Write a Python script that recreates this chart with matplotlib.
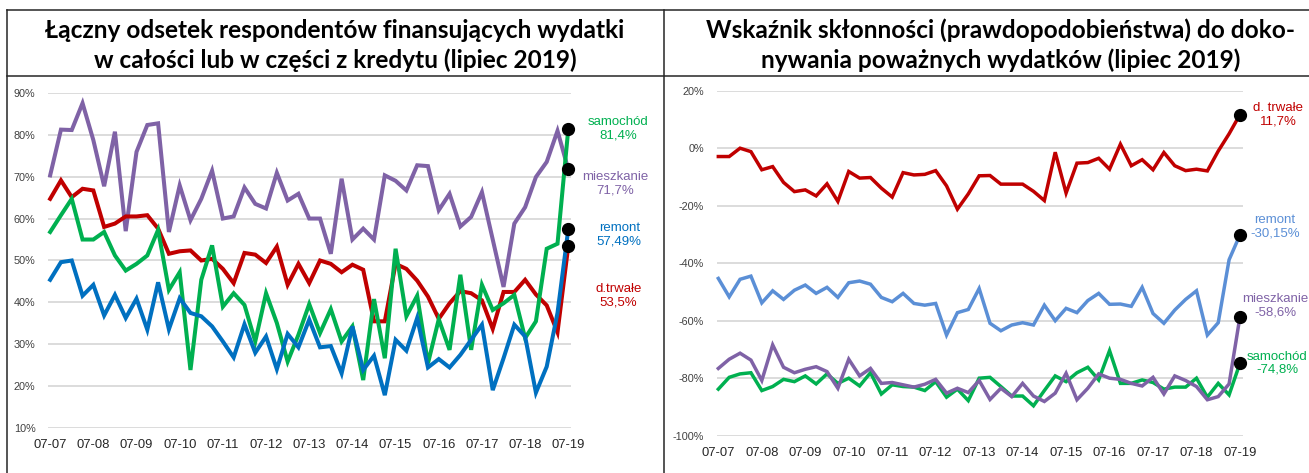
import matplotlib.pyplot as plt
from matplotlib.lines import Line2D

# quarterly readings, 07-2007 .. 07-2019
quarters = list(range(49))
tick_labels = ["07-%02d" % y for y in range(7, 20)]

# left panel: share financing purchases with credit (%)
samochod_l = [56.8, 60.8, 64.7, 55.0, 55.0, 56.8, 51.2, 47.6, 49.2, 51.2,
              57.3, 43.0, 47.2, 23.9, 45.4, 53.6, 39.0, 42.2, 39.4, 30.7,
              42.2, 35.1, 25.9, 32.3, 39.6, 32.7, 38.4, 30.7, 34.3, 21.5,
              40.8, 26.7, 52.8, 36.7, 41.6, 25.5, 36.0, 28.7, 46.6, 28.7,
              44.2, 38.2, 39.8, 41.8, 31.5, 35.5, 52.8, 54.0, 81.4]
mieszkanie_l = [70.3, 81.2, 81.1, 87.5, 78.7, 67.7, 80.7, 57.0, 75.9, 82.3,
                82.7, 56.8, 67.9, 59.6, 64.7, 71.4, 60.0, 60.5, 67.4, 63.5,
                62.4, 70.9, 64.3, 65.9, 60.0, 60.0, 51.6, 69.5, 55.0, 57.6,
                55.0, 70.3, 69.0, 66.7, 72.7, 72.5, 62.0, 65.9, 58.1, 60.4,
                66.3, 55.0, 43.7, 58.8, 62.7, 69.9, 73.5, 80.9, 71.7]
remont_l = [45.4, 49.6, 50.0, 41.6, 44.2, 36.9, 41.8, 36.3, 40.9, 33.5,
            44.8, 33.6, 41.0, 37.5, 36.7, 34.3, 30.7, 26.9, 34.8, 28.0,
            31.9, 24.1, 32.5, 29.3, 35.9, 29.3, 29.6, 23.1, 34.3, 23.9,
            27.3, 17.9, 31.1, 28.5, 36.3, 24.5, 26.5, 24.5, 27.5, 31.1,
            34.7, 19.1, 26.7, 34.7, 31.9, 18.5, 24.7, 37.5, 57.49]
trwale_l = [64.7, 69.1, 65.1, 67.1, 66.7, 58.0, 58.8, 60.5, 60.5, 60.8,
            57.6, 51.6, 52.2, 52.4, 50.0, 50.4, 48.0, 44.6, 51.8, 51.4,
            49.4, 53.3, 44.2, 49.2, 44.6, 50.0, 49.2, 47.2, 49.0, 47.8,
            35.5, 35.5, 49.2, 48.0, 45.2, 41.4, 36.1, 39.8, 42.7, 42.2,
            40.5, 33.7, 42.5, 42.5, 45.4, 41.9, 39.3, 32.9, 53.5]

# right panel: propensity index (%)
trwale_r = [-2.9, -2.9, 0.0, -1.2, -7.5, -6.4, -11.9, -15.1, -14.5, -16.6,
            -12.4, -18.5, -8.1, -10.4, -10.2, -13.9, -17.0, -8.5, -9.3, -9.1,
            -7.8, -13.1, -21.2, -15.9, -9.6, -9.5, -12.5, -12.5, -12.5, -15.0,
            -18.2, -1.4, -15.6, -5.2, -5.0, -3.5, -7.3, 1.4, -6.1, -4.0,
            -7.5, -1.5, -6.1, -7.8, -7.3, -7.9, -1.0, 5.0, 11.7]
remont_r = [-45.3, -51.7, -45.6, -44.5, -53.8, -49.6, -52.6, -49.4, -47.6, -50.5,
            -48.4, -51.9, -46.8, -46.2, -47.3, -51.9, -53.4, -50.5, -54.0, -54.6,
            -54.0, -65.0, -57.2, -56.1, -48.8, -60.9, -63.5, -61.5, -60.7, -61.5,
            -54.6, -60.0, -55.7, -57.2, -53.0, -50.5, -54.3, -54.2, -55.0, -48.4,
            -57.5, -60.9, -56.3, -52.6, -49.6, -65.0, -60.7, -38.8, -30.15]
mieszkanie_r = [-76.6, -73.4, -71.3, -73.7, -80.8, -68.4, -76.2, -78.1, -76.9, -76.0,
                -77.7, -83.5, -73.4, -79.2, -76.6, -81.8, -81.5, -82.3, -83.1, -82.1,
                -80.4, -85.2, -83.5, -85.0, -80.8, -87.4, -83.5, -86.4, -81.8, -86.2,
                -88.1, -85.2, -78.3, -87.5, -83.5, -78.5, -80.0, -80.4, -81.8, -82.7,
                -79.7, -85.5, -79.2, -80.8, -82.9, -87.5, -86.4, -82.0, -58.6]
samochod_r = [-83.8, -79.7, -78.5, -78.1, -84.3, -82.9, -80.4, -81.2, -79.2, -82.0,
              -78.5, -81.8, -80.0, -82.7, -78.1, -85.5, -82.3, -82.9, -83.1, -84.3,
              -81.2, -86.6, -83.8, -87.8, -80.0, -79.7, -82.9, -86.2, -86.2, -89.6,
              -84.3, -79.2, -81.2, -78.1, -76.2, -80.6, -70.4, -81.8, -81.8, -80.6,
              -81.5, -83.8, -83.1, -83.1, -80.0, -86.6, -81.8, -85.8, -74.8]

GREEN = "#00B050"
PURPLE = "#7F62A6"
BLUE = "#0070C0"
BLUE_LIGHT = "#5B8FD6"
RED = "#C00000"

W, H = 1309, 473
fig = plt.figure(figsize=(W / 100, H / 100), dpi=100)


def axes_px(x0, x1, ytop, ybot):
    return fig.add_axes([x0 / W, 1 - ybot / H, (x1 - x0) / W, (ybot - ytop) / H])


def style_axes(ax, yticks, xlim):
    ax.set_xlim(*xlim)
    ax.set_ylim(yticks[0], yticks[-1])
    ax.set_yticks(yticks)
    ax.set_yticklabels(["%d%%" % v for v in yticks], fontsize=7.8,
                       color="#404040", family="Liberation Sans")
    ax.set_xticks(quarters[::4])
    ax.set_xticklabels(tick_labels, fontsize=9.4, color="#262626",
                       family="Liberation Sans")
    ax.tick_params(length=0, axis="y", pad=9)
    ax.tick_params(length=0, axis="x", pad=8)
    ax.yaxis.grid(True, color="#D9D9D9", lw=1.3)
    ax.set_axisbelow(True)
    for s in ax.spines.values():
        s.set_visible(False)


def draw_series(ax, vals, color, lw, label, offset):
    ax.plot(quarters, vals, color=color, lw=lw, solid_joinstyle="miter",
            clip_on=False)
    ax.plot(quarters[-1], vals[-1], "o", color="black", ms=8.5, clip_on=False,
            zorder=5)
    ax.annotate(label, xy=(quarters[-1], vals[-1]), xytext=offset,
                textcoords="offset pixels", ha="center", va="center",
                color=color, fontsize=9.5, family="Liberation Sans",
                linespacing=1.15, annotation_clip=False)


# left panel
axl = axes_px(48, 571, 92.7, 428.3)
style_axes(axl, [10, 20, 30, 40, 50, 60, 70, 80, 90], (-0.2, 48.25))
draw_series(axl, mieszkanie_l, PURPLE, 2.9, "mieszkanie\n71,7%", (47, -14))
draw_series(axl, trwale_l, RED, 2.9, "d.trwałe\n53,5%", (50, -50))
draw_series(axl, samochod_l, GREEN, 2.9, "samochód\n81,4%", (50, 0))
draw_series(axl, remont_l, BLUE, 2.9, "remont\n57,49%", (51, -6))

# right panel
axr = axes_px(716.7, 1243, 90.7, 435.7)
style_axes(axr, [-100, -80, -60, -40, -20, 0, 20], (-0.15, 48.28))
draw_series(axr, trwale_r, RED, 2.5, "d. trwałe\n11,7%", (38, 0))
draw_series(axr, remont_r, BLUE_LIGHT, 2.5, "remont\n-30,15%", (35, 8))
draw_series(axr, samochod_r, GREEN, 2.5, "samochód\n-74,8%", (37, 0))
draw_series(axr, mieszkanie_r, PURPLE, 2.5, "mieszkanie\n-58,6%", (35, 11))

# titles
title_font = dict(fontsize=17.6, fontweight="bold", family="Lato",
                  ha="center", va="center", color="black")
fig.text(335 / W, 1 - 30 / H, "Łączny odsetek respondentów finansujących wydatki", **title_font)
fig.text(335 / W, 1 - 60 / H, "w całości lub w części z kredytu (lipiec 2019)", **title_font)
fig.text(1001 / W, 1 - 30 / H, "Wskaźnik skłonności (prawdopodobieństwa) do doko-", **title_font)
fig.text(1001 / W, 1 - 60 / H, "nywania poważnych wydatków (lipiec 2019)", **title_font)

# table borders
line_kw = dict(color="#262626", lw=1.1, transform=fig.transFigure)
fig.add_artist(Line2D([7 / W, 1], [1 - 10 / H, 1 - 10 / H], **line_kw))
fig.add_artist(Line2D([7 / W, 1], [1 - 76 / H, 1 - 76 / H], **line_kw))
fig.add_artist(Line2D([7 / W, 7 / W], [0, 1 - 10 / H], **line_kw))
fig.add_artist(Line2D([664 / W, 664 / W], [0, 1 - 10 / H], **line_kw))

fig.savefig("out.png", dpi=100)
